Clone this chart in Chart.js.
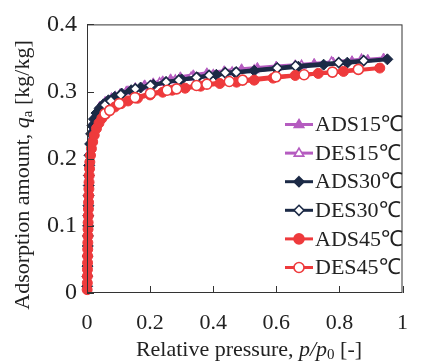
<!DOCTYPE html>
<html>
<head>
<meta charset="utf-8">
<script src="https://cdn.jsdelivr.net/npm/chart.js@4.4.0/dist/chart.umd.min.js"></script>
<style>
    html, body { margin: 0; padding: 0; background: #fff; }
    #wrap { width: 425px; height: 363px; }
</style>
</head>
<body>
<div id="wrap"><canvas id="isothermChart" width="425" height="363"></canvas></div>
<script>
// Relative pressure p/p0 and adsorption amount qa [kg/kg]
const ads15X = [0.0005, 0.001, 0.002, 0.003, 0.004, 0.005, 0.006, 0.007, 0.008, 0.01, 0.013, 0.017, 0.022, 0.03, 0.04, 0.057, 0.078, 0.105, 0.125, 0.153, 0.183, 0.21, 0.24, 0.265, 0.296, 0.337, 0.38, 0.435, 0.49, 0.54, 0.6, 0.66, 0.72, 0.78, 0.84, 0.89, 0.94];
const ads15Y = [0.01, 0.03, 0.06, 0.09, 0.12, 0.15, 0.175, 0.195, 0.21, 0.226, 0.24, 0.252, 0.262, 0.271, 0.278, 0.285, 0.291, 0.297, 0.301, 0.306, 0.31, 0.313, 0.316, 0.319, 0.322, 0.325, 0.328, 0.331, 0.334, 0.336, 0.338, 0.34, 0.342, 0.344, 0.346, 0.348, 0.35];

const des15X = [0.06, 0.09, 0.13, 0.18, 0.23, 0.28, 0.33, 0.4, 0.46, 0.53, 0.6, 0.68, 0.775, 0.87];
const des15Y = [0.284, 0.292, 0.3, 0.307, 0.313, 0.317, 0.321, 0.325, 0.329, 0.332, 0.336, 0.339, 0.344, 0.348];

const ads30X = [0.0005, 0.001, 0.0015, 0.002, 0.0025, 0.003, 0.0035, 0.004, 0.0045, 0.005, 0.0055, 0.006, 0.007, 0.008, 0.01, 0.013, 0.017, 0.022, 0.03, 0.04, 0.052, 0.068, 0.088, 0.11, 0.14, 0.17, 0.21, 0.25, 0.3, 0.35, 0.41, 0.47, 0.53, 0.6, 0.67, 0.75, 0.825, 0.952];
const ads30Y = [0.01, 0.025, 0.04, 0.055, 0.07, 0.085, 0.1, 0.115, 0.13, 0.145, 0.16, 0.175, 0.19, 0.205, 0.222, 0.237, 0.249, 0.259, 0.268, 0.275, 0.281, 0.287, 0.292, 0.297, 0.302, 0.306, 0.31, 0.314, 0.318, 0.321, 0.325, 0.328, 0.331, 0.334, 0.337, 0.34, 0.343, 0.348];

const des30X = [0.057, 0.076, 0.107, 0.153, 0.201, 0.251, 0.291, 0.347, 0.387, 0.438, 0.473, 0.603, 0.661, 0.798, 0.877];
const des30Y = [0.28, 0.286, 0.295, 0.304, 0.309, 0.314, 0.317, 0.321, 0.324, 0.328, 0.329, 0.335, 0.338, 0.343, 0.346];

const ads45X = [0.0005, 0.001, 0.0012, 0.0015, 0.0018, 0.002, 0.0023, 0.0026, 0.003, 0.0033, 0.0036, 0.004, 0.0045, 0.005, 0.0055, 0.006, 0.0065, 0.007, 0.008, 0.009, 0.011, 0.014, 0.018, 0.023, 0.03, 0.038, 0.047, 0.058, 0.072, 0.088, 0.108, 0.13, 0.16, 0.2, 0.24, 0.27, 0.311, 0.36, 0.421, 0.474, 0.53, 0.59, 0.66, 0.733, 0.813, 0.928];
const ads45Y = [0.005, 0.015, 0.025, 0.035, 0.045, 0.055, 0.065, 0.075, 0.085, 0.095, 0.105, 0.115, 0.125, 0.135, 0.145, 0.155, 0.165, 0.175, 0.185, 0.195, 0.205, 0.215, 0.225, 0.235, 0.245, 0.253, 0.26, 0.266, 0.272, 0.277, 0.282, 0.286, 0.29, 0.295, 0.299, 0.302, 0.305, 0.308, 0.312, 0.314, 0.317, 0.32, 0.324, 0.327, 0.33, 0.335];

const des45X = [0.057, 0.072, 0.102, 0.152, 0.201, 0.254, 0.284, 0.347, 0.38, 0.451, 0.493, 0.599, 0.688, 0.778, 0.86];
const des45Y = [0.267, 0.272, 0.282, 0.291, 0.297, 0.302, 0.304, 0.309, 0.311, 0.315, 0.317, 0.322, 0.325, 0.329, 0.333];

const xTicks = [0, 0.2, 0.4, 0.6, 0.8, 1];
const yTicks = [0, 0.1, 0.2, 0.3, 0.4];

const PURPLE = '#b55cc0';
const NAVY = '#1c2a46';
const RED = '#ee3a3c';
const SERIF = '"Liberation Serif", "Times New Roman", serif';

function pts(xs, ys) {
    return xs.map((x, i) => ({ x: x, y: ys[i] }));
}

// dataset 0 is painted last, so the list runs bottom-to-top reversed
const series = [
    { label: 'DES45℃', data: pts(des45X, des45Y), color: RED, style: 'circle', open: true, r: 5, lw: 4 },
    { label: 'ADS45℃', data: pts(ads45X, ads45Y), color: RED, style: 'circle', open: false, r: 5, lw: 4 },
    { label: 'DES30℃', data: pts(des30X, des30Y), color: NAVY, style: 'rectRot', open: true, r: 5, lw: 4 },
    { label: 'ADS30℃', data: pts(ads30X, ads30Y), color: NAVY, style: 'rectRot', open: false, r: 5.5, lw: 4 },
    { label: 'DES15℃', data: pts(des15X, des15Y), color: PURPLE, style: 'triangle', open: true, r: 5, lw: 3 },
    { label: 'ADS15℃', data: pts(ads15X, ads15Y), color: PURPLE, style: 'triangle', open: false, r: 5, lw: 3 }
];

const datasets = series.map(s => ({
    label: s.label,
    data: s.data,
    showLine: true,
    clip: 10,
    borderColor: s.color,
    borderWidth: s.lw,
    tension: 0,
    pointStyle: s.style,
    pointRadius: s.r,
    pointBackgroundColor: s.open ? '#fff' : s.color,
    pointBorderColor: s.color,
    pointBorderWidth: s.open ? 1.6 : 1
}));

// frame, inward tick marks, axis titles and the legend block
const decorations = {
    id: 'decorations',
    afterDraw(chart) {
        const ctx = chart.ctx;
        const a = chart.chartArea;
        const xs = chart.scales.x;
        const ys = chart.scales.y;
        ctx.save();

        ctx.strokeStyle = '#333';
        ctx.lineWidth = 1;
        ctx.strokeRect(a.left + 0.5, a.top + 0.5, a.right - a.left - 1, a.bottom - a.top - 1);

        ctx.beginPath();
        xTicks.forEach(v => {
            const px = Math.round(xs.getPixelForValue(v)) + 0.5;
            ctx.moveTo(px, a.bottom);
            ctx.lineTo(px, a.bottom - 7);
        });
        yTicks.forEach(v => {
            const py = Math.round(ys.getPixelForValue(v)) + 0.5;
            ctx.moveTo(a.left, py);
            ctx.lineTo(a.left + 7, py);
        });
        ctx.stroke();

        ctx.fillStyle = '#222';
        ctx.textBaseline = 'middle';

        // x title: Relative pressure, p/p0 [-]
        const xParts = [
            { t: 'Relative pressure, ', f: '22px ' + SERIF, dy: 0 },
            { t: 'p/p', f: 'italic 22px ' + SERIF, dy: 0 },
            { t: '0', f: '15px ' + SERIF, dy: 5 },
            { t: ' [-]', f: '22px ' + SERIF, dy: 0 }
        ];
        drawParts(ctx, xParts, 249, 350);

        // y title: Adsorption amount, qa [kg/kg]
        ctx.save();
        ctx.translate(23, 175);
        ctx.rotate(-Math.PI / 2);
        const yParts = [
            { t: 'Adsorption amount, ', f: '22px ' + SERIF, dy: 0 },
            { t: 'q', f: 'italic 22px ' + SERIF, dy: 0 },
            { t: 'a', f: '15px ' + SERIF, dy: 5 },
            { t: ' [kg/kg]', f: '22px ' + SERIF, dy: 0 }
        ];
        drawParts(ctx, yParts, 0, 0);
        ctx.restore();

        // legend, top entry first
        const order = series.slice().reverse();
        order.forEach((s, i) => {
            const cy = 124.5 + i * 28.6;
            ctx.strokeStyle = s.color;
            ctx.lineWidth = 3;
            ctx.beginPath();
            ctx.moveTo(285, cy);
            ctx.lineTo(313, cy);
            ctx.stroke();
            drawMarker(ctx, s, 299, cy);
            ctx.fillStyle = '#222';
            ctx.font = '22px ' + SERIF;
            ctx.textAlign = 'left';
            ctx.fillText(s.label, 315, cy + 1);
        });

        ctx.restore();
    }
};

function drawParts(ctx, parts, cx, cy) {
    let total = 0;
    parts.forEach(p => { ctx.font = p.f; p.w = ctx.measureText(p.t).width; total += p.w; });
    let x = cx - total / 2;
    ctx.textAlign = 'left';
    parts.forEach(p => {
        ctx.font = p.f;
        ctx.fillText(p.t, x, cy + p.dy);
        x += p.w;
    });
}

function drawMarker(ctx, s, x, y) {
    const r = 5;
    ctx.beginPath();
    if (s.style === 'circle') {
        ctx.arc(x, y, r, 0, Math.PI * 2);
    } else if (s.style === 'rectRot') {
        ctx.moveTo(x, y - r);
        ctx.lineTo(x + r, y);
        ctx.lineTo(x, y + r);
        ctx.lineTo(x - r, y);
    } else {
        ctx.moveTo(x, y - r);
        ctx.lineTo(x + r * 0.95, y + r * 0.6);
        ctx.lineTo(x - r * 0.95, y + r * 0.6);
    }
    ctx.closePath();
    ctx.fillStyle = s.open ? '#fff' : s.color;
    ctx.fill();
    ctx.strokeStyle = s.color;
    ctx.lineWidth = 1.6;
    ctx.stroke();
}

new Chart(document.getElementById('isothermChart'), {
    type: 'scatter',
    data: { datasets: datasets },
    options: {
        responsive: false,
        animation: false,
        devicePixelRatio: 1,
        layout: { padding: { top: 14, right: 6, left: 0, bottom: 0 } },
        plugins: {
            legend: { display: false },
            tooltip: { enabled: false }
        },
        scales: {
            x: {
                type: 'linear',
                min: 0,
                max: 1,
                afterFit: scale => { scale.height = 70; },
                afterBuildTicks: scale => { scale.ticks = xTicks.map(v => ({ value: v })); },
                grid: { display: false, drawTicks: false },
                border: { display: false },
                ticks: {
                    padding: 17,
                    color: '#222',
                    font: { family: SERIF, size: 22 },
                    maxRotation: 0,
                    callback: v => String(v)
                }
            },
            y: {
                type: 'linear',
                min: 0,
                max: 0.4,
                afterFit: scale => { scale.width = 87; },
                afterBuildTicks: scale => { scale.ticks = yTicks.map(v => ({ value: v })); },
                grid: { display: false, drawTicks: false },
                border: { display: false },
                ticks: {
                    padding: 10,
                    color: '#222',
                    font: { family: SERIF, size: 24 },
                    callback: v => String(v)
                }
            }
        }
    },
    plugins: [decorations]
});
</script>
</body>
</html>
